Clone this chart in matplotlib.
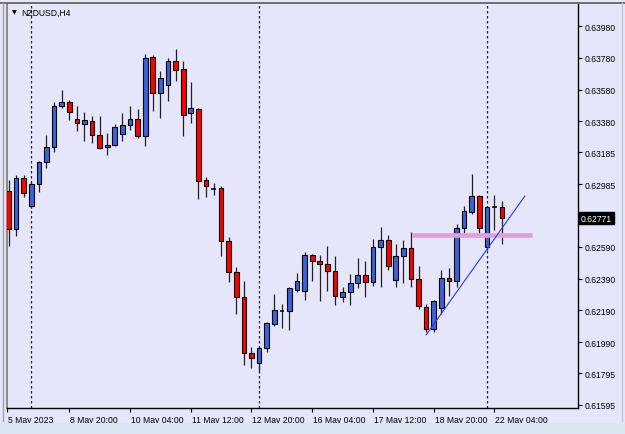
# NZDUSD H4 candle chart, MT4 look

import numpy as np
import matplotlib.pyplot as plt
from matplotlib.lines import Line2D
from matplotlib.patches import Rectangle
from matplotlib.transforms import ScaledTranslation, blended_transform_factory

symbol = "NZDUSD,H4"

# OHLC per H4 bar, 5 May 12:00 -> 22 May 08:00
open_ = [0.62942, 0.62703, 0.63024, 0.62847, 0.62986, 0.63124, 0.63219, 0.63477, 0.63502, 0.63395,
         0.63363, 0.63382, 0.63294, 0.63219, 0.63231, 0.63300, 0.63357, 0.63395, 0.63288, 0.63785,
         0.63559, 0.63609, 0.63760, 0.63710, 0.63433, 0.63458, 0.63011, 0.62954, 0.62961, 0.62627,
         0.62432, 0.62275, 0.61922, 0.61859, 0.61954, 0.62105, 0.62187, 0.62187, 0.62319, 0.62312,
         0.62539, 0.62501, 0.62482, 0.62438, 0.62275, 0.62306, 0.62363, 0.62413, 0.62369, 0.62589,
         0.62633, 0.62382, 0.62533, 0.62583, 0.62388, 0.62212, 0.62073, 0.62205, 0.62394, 0.62375,
         0.62709, 0.62810, 0.62910, 0.62589, 0.62841, 0.62841]
high = [0.63011, 0.63042, 0.63042, 0.62998, 0.63131, 0.63294, 0.63502, 0.63577, 0.63514, 0.63477,
        0.63439, 0.63414, 0.63414, 0.63307, 0.63363, 0.63433, 0.63477, 0.63458, 0.63804, 0.63798,
        0.63697, 0.63779, 0.63835, 0.63760, 0.63628, 0.63464, 0.63030, 0.62992, 0.62973, 0.62652,
        0.62463, 0.62375, 0.61960, 0.61966, 0.62117, 0.62294, 0.62231, 0.62338, 0.62426, 0.62558,
        0.62545, 0.62539, 0.62596, 0.62533, 0.62338, 0.62419, 0.62520, 0.62501, 0.62640, 0.62715,
        0.62665, 0.62608, 0.62633, 0.62684, 0.62470, 0.62231, 0.62256, 0.62445, 0.62457, 0.62734,
        0.62847, 0.63049, 0.62917, 0.62847, 0.62917, 0.62879]
low = [0.62596, 0.62659, 0.62904, 0.62835, 0.62935, 0.63086, 0.63187, 0.63464, 0.63389, 0.63319,
       0.63256, 0.63244, 0.63206, 0.63168, 0.63225, 0.63256, 0.63326, 0.63275, 0.63225, 0.63445,
       0.63401, 0.63508, 0.63634, 0.63288, 0.63370, 0.62891, 0.62904, 0.62917, 0.62533, 0.62369,
       0.62168, 0.61847, 0.61828, 0.61809, 0.61929, 0.62092, 0.62080, 0.62067, 0.62306, 0.62256,
       0.62375, 0.62250, 0.62312, 0.62224, 0.62243, 0.62224, 0.62331, 0.62275, 0.62344, 0.62338,
       0.62445, 0.62338, 0.62363, 0.62338, 0.62199, 0.62054, 0.62054, 0.62168, 0.62281, 0.62338,
       0.62677, 0.62797, 0.62652, 0.62570, 0.62696, 0.62608]
close = [0.62703, 0.63024, 0.62929, 0.62986, 0.63124, 0.63219, 0.63477, 0.63502, 0.63439, 0.63370,
         0.63389, 0.63294, 0.63212, 0.63231, 0.63345, 0.63357, 0.63395, 0.63288, 0.63779, 0.63559,
         0.63653, 0.63760, 0.63703, 0.63420, 0.63464, 0.63005, 0.62973, 0.62954, 0.62627, 0.62432,
         0.62275, 0.61922, 0.61891, 0.61954, 0.62111, 0.62193, 0.62187, 0.62331, 0.62375, 0.62539,
         0.62501, 0.62482, 0.62438, 0.62281, 0.62306, 0.62363, 0.62413, 0.62369, 0.62589, 0.62633,
         0.62470, 0.62533, 0.62583, 0.62388, 0.62218, 0.62073, 0.62250, 0.62394, 0.62375, 0.62709,
         0.62816, 0.62910, 0.62709, 0.62841, 0.62841, 0.62771]

time_labels = ["5 May 2023", "8 May 20:00", "10 May 04:00", "11 May 12:00", "12 May 20:00",
               "16 May 04:00", "17 May 12:00", "18 May 20:00", "22 May 04:00"]
price_ticks = [0.63980, 0.63780, 0.63580, 0.63380, 0.63185, 0.62985,
               0.62590, 0.62390, 0.62190, 0.61990, 0.61795, 0.61595]

last_price = 0.62771
level_price = 0.62665          # pink horizontal level
level_bars = (53.2, 69.0)
trend_bars = (55, 68)           # blue trendline
trend_prices = (0.62036, 0.62910)
week_starts = [3, 33, 63]       # period separators (Monday 00:00)

plt.rcParams['font.family'] = ['Liberation Sans', 'DejaVu Sans']
bg = '#e6e6fa'

fig = plt.figure(figsize=(6.25, 4.35), dpi=100, facecolor=bg)
ax = fig.add_axes([7/625, 26/435, 571/625, 404/435])
ax.set_facecolor(bg)

o = np.array(open_)
h = np.array(high)
l = np.array(low)
c = np.array(close)
x = np.arange(len(o))
up = c > o
dn = c < o
flat = c == o
w = 0.62

# separators
for s in week_starts:
    ax.axvline(s, color='#222222', lw=0.9, ls=(0, (2, 2)), zorder=1)

# candles
ax.vlines(x, l, h, color='#202020', lw=0.9, zorder=2)
ax.bar(x[up], (c - o)[up], bottom=o[up], width=w, color='#3b62d8',
       edgecolor='black', lw=0.8, zorder=3)
ax.bar(x[dn], (o - c)[dn], bottom=c[dn], width=w, color='#ff0000',
       edgecolor='black', lw=0.8, zorder=3)
ax.hlines(o[flat], x[flat] - w/2, x[flat] + w/2, color='black', lw=1.1, zorder=3)

# objects
ax.plot(level_bars, [level_price, level_price], color='#dda0dd', lw=3.3,
        solid_capstyle='butt', zorder=4)
ax.plot(trend_bars, trend_prices, color='#3232ff', lw=0.8, zorder=5)

ax.set_xlim(-0.2, 75)
ax.set_ylim(0.61576, 0.64119)

# price axis
ax.yaxis.tick_right()
ax.set_yticks(price_ticks)
ax.set_yticklabels(['%.5f' % p for p in price_ticks])
ax.tick_params(axis='y', direction='out', length=3, pad=2, labelsize=6.2,
               color='black', labelcolor='black')

# time axis
ax.set_xticks([-0.2] + list(range(8, 8 * len(time_labels), 8)))
ax.set_xticklabels(time_labels, ha='left')
ax.tick_params(axis='x', direction='out', length=3, pad=2, labelsize=6.2,
               color='black', labelcolor='black')
for lbl in ax.get_xticklabels():
    lbl.set_transform(lbl.get_transform() + ScaledTranslation(1/100, 0, fig.dpi_scale_trans))

for side in ['right', 'bottom']:
    ax.spines[side].set_color('black')
    ax.spines[side].set_linewidth(1)
ax.spines['top'].set_visible(False)
ax.spines['left'].set_color('#8a8a8a')
ax.spines['left'].set_linewidth(1.4)

# current price box
tr = blended_transform_factory(ax.transAxes, ax.transData)
ax.text(1.005, last_price, '%.5f' % last_price, transform=tr, ha='left', va='center',
        fontsize=6.2, color='white',
        bbox=dict(facecolor='black', edgecolor='black', boxstyle='square,pad=0.2'))

# symbol caption
ax.text(0.0085, 0.981, '\u25bc', transform=ax.transAxes, fontsize=4.5,
        va='center', ha='left', family=['DejaVu Sans'])
ax.text(0.0245, 0.980, symbol, transform=ax.transAxes, fontsize=6.2,
        va='center', ha='left')

# window frame
fig.add_artist(Line2D([0, 1], [1 - 4/435, 1 - 4/435], color='#5a5a5a', lw=1.2))
fig.add_artist(Line2D([3/625, 3/625], [0.03, 1 - 4/435], color='#a0a0a0', lw=1))
fig.add_artist(Line2D([622/625, 622/625], [0.03, 1 - 4/435], color='#c8c8d8', lw=1))
fig.add_artist(Rectangle((0, 0), 1, 11/435, transform=fig.transFigure,
                         facecolor='#dce6f2', edgecolor='none'))

plt.savefig("out.png", dpi=100, facecolor=bg)
